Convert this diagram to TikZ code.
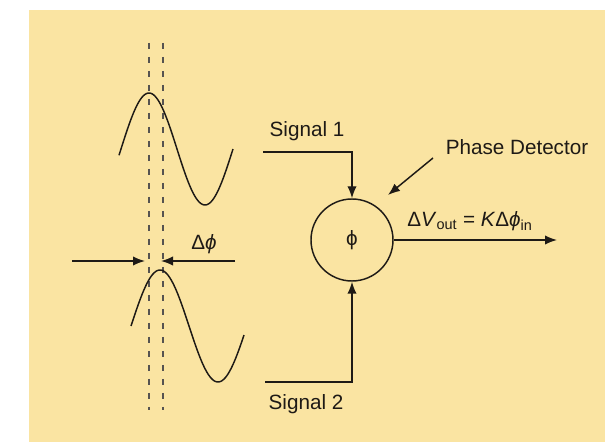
\documentclass[tikz,border=0pt]{standalone}
\usepackage{fontspec}
\setmainfont{Liberation Sans}
\usetikzlibrary{arrows.meta}
\definecolor{bgyellow}{RGB}{250,228,162}
\definecolor{ink}{RGB}{30,26,22}
\begin{document}
\begin{tikzpicture}[x=0.75pt,y=-0.75pt,
  wire/.style={draw=ink,line width=1.1pt},
  arr/.style={wire,-{Latex[length=9pt,width=7pt]}},
  guide/.style={draw=ink!75,line width=1.1pt,dash pattern=on 4.5pt off 6pt},
  lbl/.style={font=\fontsize{15.5}{18}\selectfont,text=ink,inner sep=0pt}]
\useasboundingbox (0,0) rectangle (615,442);
\fill[white] (0,0) rectangle (615,442);
\fill[bgyellow] (29,10) rectangle (605,442);
% dashed guides
\coordinate (g1t) at (149,43); \coordinate (g1b) at (149,410);
\coordinate (g2t) at (163,43); \coordinate (g2b) at (163,410);
\draw[guide] (g1t) -- (g1b);
\draw[guide] (g2t) -- (g2b);
% sine waves
\draw[wire,domain=119:233,samples=80,smooth] plot (\x,{149-56*cos((\x-149)/56*180)});
\draw[wire,domain=131:244,samples=80,smooth] plot (\x,{326-56*cos((\x-160)/58*180)});
% delta phi arrows
\coordinate (pl0) at (72,261); \coordinate (pl1) at (145,261);
\coordinate (pr0) at (235,261); \coordinate (pr1) at (161,261);
\draw[arr] (pl0) -- (pl1);
\draw[arr] (pr0) -- (pr1);
\node[lbl] (dphi) at (204,244) {Δ\textit{ϕ}};
% detector
\node[draw=ink,line width=1.1pt,circle,minimum size=61.5pt,inner sep=0pt,lbl] (det) at (352,240) {ϕ};
\coordinate (s1) at (263,152);
\coordinate (s2) at (265,382);
\draw[arr] (s1) -| (det.north);
\draw[arr] (s2) -| (det.south);
\node[lbl] (sig1) at (307,131) {Signal 1};
\node[lbl] (sig2) at (306,404) {Signal 2};
\node[lbl] (pd) at (517,147) {Phase Detector};
\coordinate (pda) at (433,158);
\coordinate (pdb) at (388,195);
\draw[arr] (pda) -- (pdb);
\coordinate (out) at (557,240);
\draw[arr] (det.east) -- (out);
\node[lbl] (eq) at (470,221) {Δ\textit{V}\textsubscript{out} = \textit{K}Δ\textit{ϕ}\textsubscript{in}};
\end{tikzpicture}
\end{document}
